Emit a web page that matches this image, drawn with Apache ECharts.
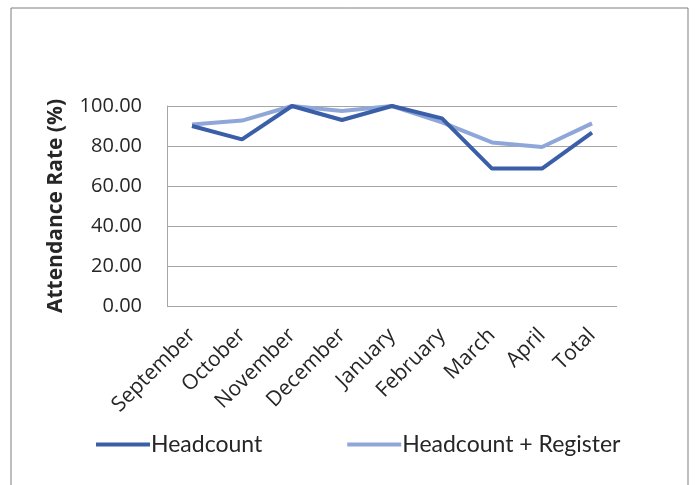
<!DOCTYPE html>
<html><head><meta charset="utf-8">
<script src="https://cdn.jsdelivr.net/npm/echarts@6/dist/echarts.min.js"></script>
<style>html,body{margin:0;padding:0;background:#fff}#c{width:697px;height:485px}</style>
</head><body><div id="c"></div>
<script>
var categories = ["September","October","November","December","January","February","March","April","Total"];
var headcount = [90.0, 83.3, 100.0, 93.0, 100.0, 93.8, 68.7, 68.7, 86.7];
var headcountRegister = [90.8, 92.7, 100.0, 97.5, 100.0, 91.8, 81.8, 79.5, 91.3];
var yTicks = [0, 20, 40, 60, 80, 100];
var seriesNames = ["Headcount", "Headcount + Register"];

var chart = echarts.init(document.getElementById('c'), null, {renderer:'canvas'});
chart.setOption({
  animation: false,
  backgroundColor: '#fff',
  graphic: [{
    type: 'rect', shape: {x: 11, y: 8, width: 677, height: 520},
    style: {fill: 'none', stroke: '#7f7f7f', lineWidth: 1}, silent: true
  }],
  grid: {left: 167, right: 80, top: 106, bottom: 179, containLabel: false},
  legend: {
    data: seriesNames,
    left: 91, top: 428,
    itemWidth: 54, itemHeight: 4, itemGap: 85,
    icon: 'rect',
    textStyle: {fontFamily: 'Lato', fontSize: 23, color: '#262626', padding: [0,0,0,-4]}
  },
  xAxis: {
    type: 'category', data: categories, boundaryGap: true,
    axisLine: {show: false}, axisTick: {show: false},
    axisLabel: {rotate: 45, interval: 0, margin: 26,
      fontFamily: 'Open Sans', fontSize: 21, color: '#262626'}
  },
  yAxis: {
    type: 'value', min: yTicks[0], max: yTicks[yTicks.length-1], interval: 20,
    name: 'Attendance Rate (%)', nameLocation: 'middle', nameGap: 100, nameRotate: 90,
    nameTextStyle: {fontFamily: 'Open Sans', fontWeight: 'bold', fontSize: 21, color: '#262626'},
    axisLine: {show: true, lineStyle: {color: '#a6a6a6', width: 1}},
    axisTick: {show: false},
    splitLine: {lineStyle: {color: '#a6a6a6', width: 1}},
    axisLabel: {formatter: function(v){return v.toFixed(2);}, margin: 25,
      fontFamily: 'Open Sans', fontSize: 20, color: '#262626'}
  },
  series: [
    {name: seriesNames[0], type: 'line', data: headcount, symbol: 'none',
     lineStyle: {color: '#3a5ea8', width: 4}, itemStyle: {color: '#3a5ea8'}, z: 3},
    {name: seriesNames[1], type: 'line', data: headcountRegister, symbol: 'none',
     lineStyle: {color: '#8fa7d8', width: 4}, itemStyle: {color: '#8fa7d8'}, z: 2}
  ]
});
</script></body></html>
